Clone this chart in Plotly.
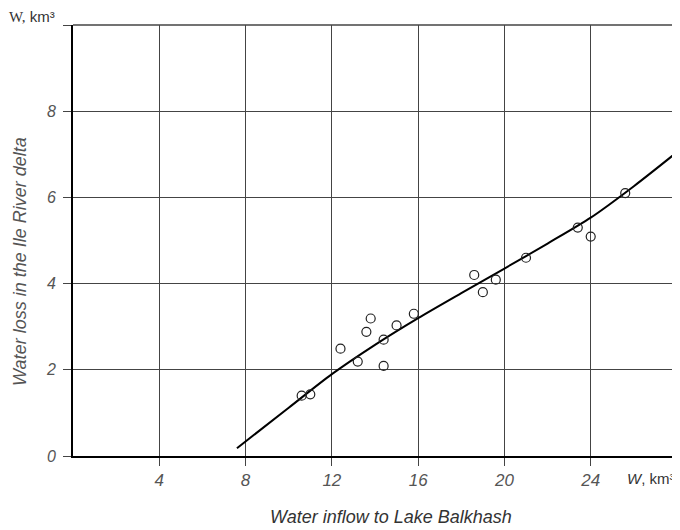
import plotly.graph_objects as go

# Observed points
obs_x = [10.6, 11.0, 12.4, 13.2, 13.6, 13.8, 14.4, 14.4, 15.0, 15.8,
         18.6, 19.0, 19.6, 21.0, 23.4, 24.0, 25.6]
obs_y = [1.40, 1.43, 2.49, 2.19, 2.88, 3.19, 2.70, 2.09, 3.03, 3.30,
         4.20, 3.80, 4.09, 4.60, 5.30, 5.09, 6.10]

# Fitted curve
curve_x = [7.6, 10, 12, 14, 16, 18, 20, 22, 24, 26, 28]
curve_y = [0.18, 1.12, 1.9, 2.58, 3.2, 3.78, 4.35, 4.93, 5.53, 6.26, 7.05]

x_tickvals = [4, 8, 12, 16, 20, 24, 28]
x_ticktext = ["4", "8", "12", "16", "20", "24", ""]
y_tickvals = [0, 2, 4, 6, 8, 10]
y_ticktext = ["0", "2", "4", "6", "8", ""]

fig = go.Figure()
fig.add_trace(go.Scatter(
    x=curve_x, y=curve_y, mode="lines",
    line=dict(color="black", width=2, shape="spline", smoothing=0.8),
    showlegend=False, hoverinfo="skip"))
fig.add_trace(go.Scatter(
    x=obs_x, y=obs_y, mode="markers",
    marker=dict(symbol="circle-open", size=9, color="#222222",
                line=dict(width=1.2, color="#222222")),
    showlegend=False))

SANS = "Liberation Sans, Arial"

fig.update_layout(
    width=672, height=522,
    margin=dict(l=65, r=3, t=17, b=74),
    paper_bgcolor="white", plot_bgcolor="white",
    font=dict(family=SANS, color="#333333"),
    xaxis=dict(
        range=[0, 28], tickvals=x_tickvals, ticktext=x_ticktext,
        showgrid=True, gridcolor="#444444", gridwidth=1,
        showline=True, linecolor="black", linewidth=2,
        ticks="outside", ticklen=8, tickcolor="#444444", tickwidth=1,
        zeroline=False, automargin=False,
        tickfont=dict(family=SANS, size=17, color="#555555", style="italic"),
    ),
    yaxis=dict(
        range=[0, 10], tickvals=y_tickvals, ticktext=y_ticktext,
        showgrid=True, gridcolor="#444444", gridwidth=1,
        showline=True, linecolor="black", linewidth=2,
        ticks="outside", ticklen=8, tickcolor="#444444", tickwidth=1,
        zeroline=False, automargin=False, ticklabelstandoff=4,
        tickfont=dict(family=SANS, size=16, color="#555555", style="italic"),
    ),
    shapes=[
        dict(type="line", xref="paper", yref="paper", x0=0, x1=1, y0=1, y1=1,
             line=dict(color="#444444", width=1.5)),
        dict(type="line", xref="paper", yref="paper", x0=1, x1=1, y0=0, y1=1,
             line=dict(color="#444444", width=1.5)),
        dict(type="line", xref="paper", yref="paper", x0=1, x1=1, y0=0, y1=-0.018,
             line=dict(color="#444444", width=1)),
    ],
    annotations=[
        dict(xref="paper", yref="paper", x=0, xshift=-65, y=1.0, yshift=9,
             xanchor="left", yanchor="middle", showarrow=False, borderpad=0,
             text='<span style="font-family:Liberation Serif">W,</span> km³',
             font=dict(family=SANS, size=15, color="#333333")),
        dict(xref="paper", yref="paper", x=1.0, y=0, yshift=-12,
             xanchor="right", yanchor="top", showarrow=False,
             text="<i>W</i>, km³",
             font=dict(family=SANS, size=15, color="#333333")),
        dict(xref="paper", yref="paper", x=0.527, y=0, yshift=-49,
             xanchor="center", yanchor="top", showarrow=False,
             text="<i>Water inflow to Lake Balkhash</i>",
             font=dict(family=SANS, size=18, color="#333333")),
        dict(xref="paper", yref="paper", x=0, xshift=-53, y=0.45,
             xanchor="center", yanchor="middle", showarrow=False, textangle=-90,
             text="<i>Water loss in the Ile River delta</i>",
             font=dict(family=SANS, size=18, color="#555555")),
    ],
)

fig.write_html("out.html")
